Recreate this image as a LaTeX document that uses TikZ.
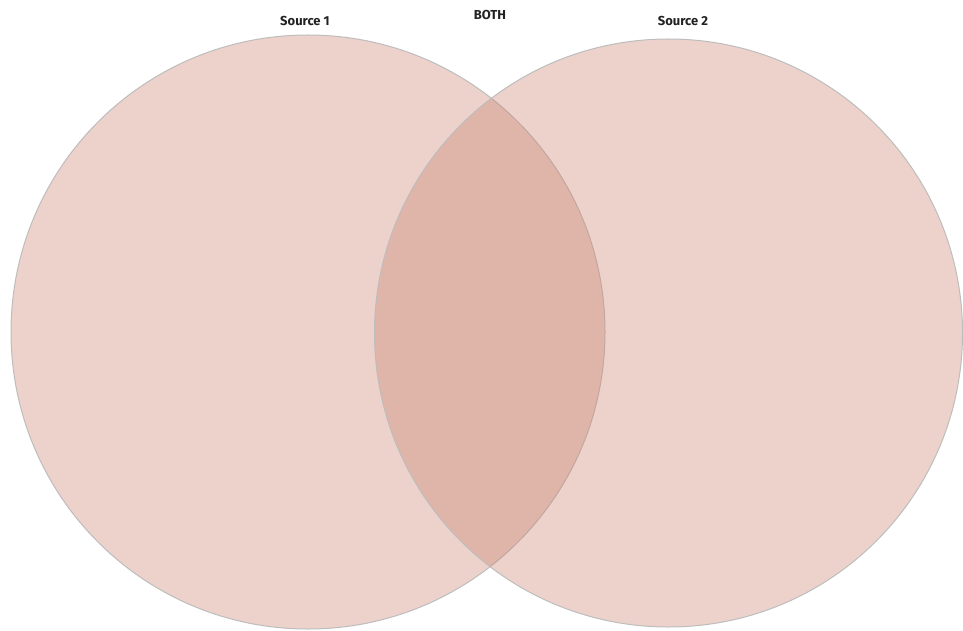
\documentclass[tikz,border=0pt]{standalone}
\usepackage{fontspec}
\setmainfont{Fira Sans}
\usetikzlibrary{positioning}
\definecolor{csalmon}{HTML}{C97E6A}
\definecolor{cedge}{HTML}{BDBDBD}
\definecolor{ctext}{HTML}{222222}
\tikzset{
  every picture/.style={x=1pt, y=-1pt},
  setcircle/.style={circle, draw=cedge, line width=1pt, fill=csalmon, fill opacity=0.35, minimum size=#1, inner sep=0pt},
  setlabel/.style={font=\fontsize{13}{15}\selectfont\bfseries, text=ctext},
}

\begin{document}
\begin{tikzpicture}
  \useasboundingbox (0,0) rectangle (963,631);
  \node[setcircle=594pt] (src1) at (308,332) {};
  \node[setcircle=588pt] (src2) at (668.5,333) {};
  \node[setlabel] (lab1) at (305,21) {Source 1};
  \node[setlabel] (both) at (490,15) {BOTH};
  \node[setlabel] (lab2) at (683,21) {Source 2};
\end{tikzpicture}
\end{document}
